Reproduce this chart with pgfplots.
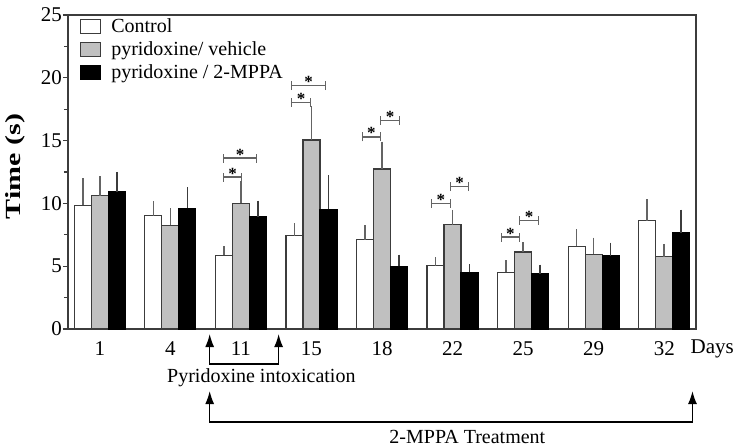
\documentclass[border=0pt]{standalone}
\usepackage{pgfplots}
\pgfplotsset{compat=1.18}
\usepackage{fontspec}
\setmainfont{Liberation Serif}
\usetikzlibrary{arrows.meta}
\definecolor{barg}{RGB}{192,192,192}
\definecolor{edge}{RGB}{60,60,60}
\definecolor{brk}{RGB}{100,100,100}
\newcommand{\sig}[4]{%
 \draw[brk, line width=1.4pt] (axis cs:#1,#3) -- (axis cs:#2,#3);
 \draw[brk, line width=1.4pt] ([yshift=-4.5pt]axis cs:#1,#3) -- ([yshift=4.5pt]axis cs:#1,#3);
 \draw[brk, line width=1.4pt] ([yshift=-4.5pt]axis cs:#2,#3) -- ([yshift=4.5pt]axis cs:#2,#3);
 \node[font=\fontsize{17}{17}\selectfont\bfseries, inner sep=0pt] at ([yshift=3.5pt]axis cs:#4,#3) {*};
}
\begin{document}
\begin{tikzpicture}
\begin{axis}[
 scale only axis, width=628pt, height=314pt,
 xmin=-0.45, xmax=8.45, ymin=0, ymax=25,
 ybar, bar width=17pt,
 xtick={0,...,8}, xticklabels={1,4,11,15,18,22,25,29,32},
 ytick={0,5,...,25}, minor y tick num=1,
 tick pos=left, tick align=outside,
 xtick style={draw=none},
 major tick length=5pt, minor tick length=4pt,
 axis line style={edge, line width=1.2pt},
 every tick/.style={edge, line width=1.2pt},
 clip=false,
 /pgf/number format/assume math mode=true,
 ticklabel style={font=\fontsize{21}{24}\selectfont},
 yticklabel style={inner xsep=1pt},
 xticklabel style={yshift=-4pt},
 error bars/y dir=plus, error bars/y explicit,
 legend style={at={(0.0143,1.0)}, anchor=north west, draw=none, fill=none,
   font=\fontsize{20}{22}\selectfont, row sep=4.5pt,
   nodes={inner sep=1.5pt}},
 legend cell align=left,
 legend image code/.code={\draw[#1, line width=1.2pt] (0pt,-7pt) rectangle (20pt,7pt); \path[draw=none,fill=none] (0pt,0pt) -- (29pt,0pt);},
]
\addplot[draw=edge, fill=white, line width=1.2pt, bar shift=-17pt,
  error bars/error bar style={brk, line width=1.6pt},
  error bars/error mark options={brk, mark size=4pt, line width=1.6pt}]
 coordinates {(0,9.85)+-(0,1.85) (1,9.02)+-(0,0.83) (2,5.87)+-(0,0.40) (3,7.43)+-(0,0.67)
  (4,7.11)+-(0,0.83) (5,5.04)+-(0,0.37) (6,4.51)+-(0,0.66) (7,6.58)+-(0,1.06) (8,8.62)+-(0,1.38)};
\addlegendentry{Control}
\addplot[draw=edge, fill=barg, line width=1.2pt, bar shift=0pt,
  error bars/error bar style={brk, line width=1.6pt},
  error bars/error mark options={brk, mark size=4pt, line width=1.6pt}]
 coordinates {(0,10.6)+-(0,1.24) (1,8.25)+-(0,1.05) (2,10.0)+-(0,1.5) (3,15.05)+-(0,2.35)
  (4,12.74)+-(0,1.86) (5,8.3)+-(0,0.86) (6,6.13)+-(0,0.45) (7,5.94)+-(0,1.01) (8,5.76)+-(0,0.69)};
\addlegendentry{pyridoxine/ vehicle}
\addplot[draw=black, fill=black, line width=1.2pt, bar shift=17pt,
  error bars/error bar style={edge, line width=1.6pt},
  error bars/error mark options={edge, mark size=4pt, line width=1.6pt}]
 coordinates {(0,10.9)+-(0,1.3) (1,9.6)+-(0,1.36) (2,8.92)+-(0,0.98) (3,9.53)+-(0,2.41)
  (4,4.99)+-(0,0.61) (5,4.51)+-(0,0.32) (6,4.38)+-(0,0.42) (7,5.81)+-(0,0.74) (8,7.67)+-(0,1.51)};
\addlegendentry{pyridoxine / 2-MPPA}
% significance brackets
\sig{1.756}{2.011}{12.1}{1.883}
\sig{1.756}{2.224}{13.6}{1.990}
\sig{2.72}{2.99}{18.05}{2.855}
\sig{2.72}{3.20}{19.37}{2.96}
\sig{3.725}{3.98}{15.3}{3.85}
\sig{3.98}{4.25}{16.6}{4.115}
\sig{4.70}{4.97}{10.0}{4.835}
\sig{4.97}{5.23}{11.33}{5.10}
\sig{5.69}{5.95}{7.32}{5.82}
\sig{5.95}{6.22}{8.65}{6.085}
% annotations
\node[font=\fontsize{21}{24}\selectfont] at (axis cs:8.68,-1.55) {Days};
\draw[line width=1.4pt, {Latex[length=13pt,width=9pt]}-{Latex[length=13pt,width=9pt]}]
  (axis cs:1.558,-0.4) -- (axis cs:1.558,-2.79) -- (axis cs:2.535,-2.79) -- (axis cs:2.535,-0.4);
\node[font=\fontsize{20}{22}\selectfont] at (axis cs:2.29,-3.9) {Pyridoxine intoxication};
\draw[line width=1.4pt, {Latex[length=13pt,width=9pt]}-{Latex[length=13pt,width=9pt]}]
  (axis cs:1.558,-4.94) -- (axis cs:1.558,-7.4) -- (axis cs:8.40,-7.4) -- (axis cs:8.40,-4.94);
\node[font=\fontsize{20}{22}\selectfont] at (axis cs:5.21,-8.6) {2-MPPA Treatment};
\node[font=\fontsize{30}{31}\selectfont\bfseries, rotate=90, anchor=base, inner sep=0pt] at ([xshift=-47pt]axis cs:-0.45,12.94) {\scalebox{1}[0.72]{Time (s)}};
\end{axis}
\pgfresetboundingbox
\path (-68pt,-118pt) rectangle (675pt,329pt);
\end{tikzpicture}
\end{document}
